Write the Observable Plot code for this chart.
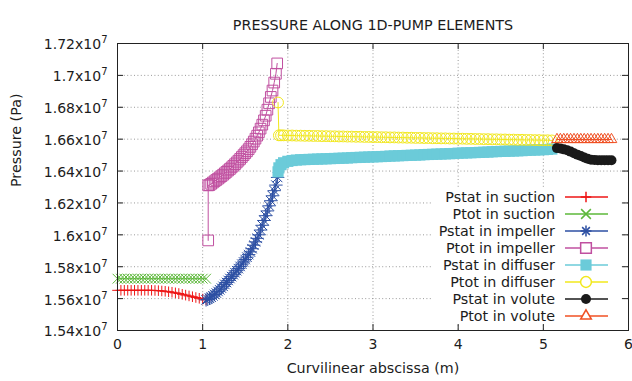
<!DOCTYPE html>
<html><head><meta charset="utf-8">
<script src="https://cdn.jsdelivr.net/npm/d3@7"></script>
<script src="https://cdn.jsdelivr.net/npm/@observablehq/plot@0.6"></script>
<style>
html,body{margin:0;padding:0;background:#fff;}
#chart{width:632px;height:381px;overflow:hidden;}
</style></head><body><div id="chart"></div>
<script>
// ---- data (pressure in units of 10^7 Pa, abscissa in m) ----
const suctionX = [0,0.04,0.08,0.12,0.16,0.2,0.24,0.28,0.32,0.36,0.4,0.44,0.48,0.52,0.56,0.6,0.64,0.68,0.72,0.76,0.8,0.84,0.88,0.92,0.96,1.0,1.04];
const pstatSuction = [1.5652,1.5652,1.5652,1.5652,1.5652,1.5652,1.5652,1.5652,1.5652,1.5652,1.5652,1.5651,1.5650,1.5648,1.5646,1.5643,1.5640,1.5636,1.5632,1.5627,1.5622,1.5617,1.5612,1.5607,1.5602,1.5597,1.5592];
const ptotSuction = [1.5725,1.5725,1.5725,1.5725,1.5725,1.5725,1.5725,1.5725,1.5725,1.5725,1.5725,1.5725,1.5725,1.5725,1.5725,1.5725,1.5725,1.5725,1.5725,1.5725,1.5725,1.5725,1.5725,1.5725,1.5725,1.5725,1.5725];

const impellerX = [1.04,1.06,1.08,1.10,1.12,1.14,1.16,1.18,1.20,1.22,1.24,1.26,1.28,1.30,1.32,1.34,1.36,1.38,1.40,1.42,1.44,1.46,1.48,1.50,1.52,1.54,1.56,1.58,1.60,1.62,1.64,1.66,1.68,1.70,1.72,1.74,1.76,1.78,1.80,1.82,1.84,1.86,1.88];
const pstatImpeller = [1.5592,1.5596,1.5602,1.5609,1.5617,1.5626,1.5635,1.5645,1.5655,1.5666,1.5677,1.5689,1.5701,1.5714,1.5726,1.5738,1.5750,1.5762,1.5775,1.5788,1.5802,1.5816,1.5830,1.5845,1.5860,1.5876,1.5893,1.5913,1.5935,1.5956,1.5978,1.6000,1.6030,1.6060,1.6090,1.6120,1.6150,1.6182,1.6214,1.6245,1.6277,1.6312,1.6360];
const impellerTotX = [1.065,1.065,1.08,1.10,1.12,1.14,1.16,1.18,1.20,1.22,1.24,1.26,1.28,1.30,1.32,1.34,1.36,1.38,1.40,1.42,1.44,1.46,1.48,1.50,1.52,1.54,1.56,1.58,1.60,1.62,1.64,1.66,1.68,1.70,1.72,1.74,1.76,1.78,1.80,1.82,1.84,1.86,1.875];
const ptotImpeller = [1.5965,1.6310,1.6312,1.6320,1.6328,1.6336,1.6344,1.6352,1.6360,1.6368,1.6377,1.6386,1.6395,1.6404,1.6413,1.6423,1.6433,1.6443,1.6454,1.6465,1.6476,1.6488,1.6500,1.6512,1.6524,1.6537,1.6552,1.6568,1.6585,1.6603,1.6622,1.6643,1.6666,1.6691,1.6718,1.6747,1.6785,1.6825,1.6865,1.6905,1.6955,1.7010,1.7075];

const diffuserX = [1.885,1.895,1.92,1.95,2.00,2.05,2.10,2.15,2.20,2.25,2.30,2.35,2.40,2.45,2.50,2.55,2.60,2.65,2.70,2.75,2.80,2.85,2.90,2.95,3.00,3.05,3.10,3.15,3.20,3.25,3.30,3.35,3.40,3.45,3.50,3.55,3.60,3.65,3.70,3.75,3.80,3.85,3.90,3.95,4.00,4.05,4.10,4.15,4.20,4.25,4.30,4.35,4.40,4.45,4.50,4.55,4.60,4.65,4.70,4.75,4.80,4.85,4.90,4.95,5.00,5.05,5.10];
const pstatDiffuser = [1.6395,1.6420,1.6440,1.6452,1.6461,1.6466,1.6469,1.6471,1.6472,1.6473,1.6474,1.6475,1.6476,1.6477,1.6478,1.6479,1.6480,1.6481,1.6482,1.6484,1.6485,1.6486,1.6487,1.6488,1.6489,1.6490,1.6491,1.6492,1.6494,1.6495,1.6496,1.6497,1.6498,1.6499,1.6500,1.6501,1.6503,1.6504,1.6505,1.6506,1.6507,1.6508,1.6509,1.6510,1.6512,1.6513,1.6514,1.6515,1.6516,1.6517,1.6518,1.6519,1.6521,1.6522,1.6523,1.6524,1.6525,1.6526,1.6527,1.6528,1.6530,1.6531,1.6532,1.6533,1.6534,1.6536,1.6538];
const ptotDiffuser = [1.6830,1.6624,1.6624,1.6624,1.6623,1.6623,1.6622,1.6622,1.6621,1.6621,1.6620,1.6620,1.6619,1.6619,1.6618,1.6618,1.6617,1.6617,1.6616,1.6616,1.6615,1.6615,1.6614,1.6614,1.6613,1.6613,1.6612,1.6612,1.6611,1.6611,1.6610,1.6610,1.6609,1.6609,1.6608,1.6608,1.6607,1.6607,1.6606,1.6606,1.6605,1.6605,1.6604,1.6604,1.6603,1.6603,1.6602,1.6602,1.6601,1.6601,1.6600,1.6600,1.6599,1.6599,1.6598,1.6598,1.6597,1.6597,1.6596,1.6596,1.6595,1.6595,1.6594,1.6594,1.6593,1.6593,1.6592];

const voluteX = [5.16,5.20,5.24,5.28,5.32,5.36,5.40,5.44,5.48,5.52,5.56,5.60,5.64,5.68,5.72,5.76,5.80];
const pstatVolute = [1.6544,1.6541,1.6536,1.6530,1.6522,1.6512,1.6503,1.6494,1.6485,1.6477,1.6471,1.6469,1.6468,1.6468,1.6468,1.6468,1.6468];
const ptotVolute = [1.6598,1.6598,1.6598,1.6598,1.6598,1.6598,1.6598,1.6598,1.6598,1.6598,1.6598,1.6598,1.6598,1.6598,1.6598,1.6598,1.6598];

const xTicks = [0,1,2,3,4,5,6];
const yTicks = [1.54,1.56,1.58,1.60,1.62,1.64,1.66,1.68,1.70,1.72];
const seriesNames = ["Pstat in suction","Ptot in suction","Pstat in impeller","Ptot in impeller","Pstat in diffuser","Ptot in diffuser","Pstat in volute","Ptot in volute"];
const titleText = "PRESSURE ALONG 1D-PUMP ELEMENTS";
const xLabel = "Curvilinear abscissa (m)";
const yLabel = "Pressure (Pa)";

// ---- styles ----
const styles = [
  {color:"#ee1616", symbols:["plus"], r:3.5, filled:false},
  {color:"#5cb83a", symbols:["times"], r:4.5, filled:false},
  {color:"#2c4fa3", symbols:["plus","times"], r:4.4, filled:false},
  {color:"#c050a0", symbols:["square2"], r:6.8, filled:false},
  {color:"#6bcbd9", symbols:["square"], r:6.3, filled:true},
  {color:"#f2e81c", symbols:["circle"], r:5.4, filled:false},
  {color:"#1a1a1a", symbols:["circle"], r:5.0, filled:true},
  {color:"#f05023", symbols:["triangle2"], r:5.1, filled:false}
];
const xs = [suctionX, suctionX, impellerX, impellerTotX, diffuserX, diffuserX, voluteX, voluteX];
const ys = [pstatSuction, ptotSuction, pstatImpeller, ptotImpeller, pstatDiffuser, ptotDiffuser, pstatVolute, ptotVolute];
const series = seriesNames.map((name, i) => ({
  name, ...styles[i],
  data: xs[i].map((x, j) => ({x, y: ys[i][j]}))
}));

const FONT = "DejaVu Sans";
const TXT = "#1c1c1c";
const FS = 14.3;
const marks = [
  Plot.ruleX(xTicks, {x: d => d, stroke: "#9a9a9a", strokeDasharray: "1,2.4"}),
  Plot.ruleY(yTicks, {y: d => d, stroke: "#9a9a9a", strokeDasharray: "1,2.4"})
];
for (const s of series) {
  marks.push(Plot.line(s.data, {x: "x", y: "y", stroke: s.color, strokeWidth: 1}));
  for (const sym of s.symbols) {
    marks.push(Plot.dot(s.data, s.filled
      ? {x: "x", y: "y", symbol: sym, r: s.r, fill: s.color, stroke: "none"}
      : {x: "x", y: "y", symbol: sym, r: s.r, fill: "none", stroke: s.color, strokeWidth: 1}));
  }
}
marks.push(
  Plot.frame({stroke: "#222", strokeWidth: 1}),
  Plot.tickX(xTicks, {x: d => d, stroke: "#222", insetTop: 281}),
  Plot.tickX(xTicks, {x: d => d, stroke: "#222", insetBottom: 281}),
  Plot.tickY(yTicks, {y: d => d, stroke: "#222", insetRight: 505}),
  Plot.tickY(yTicks, {y: d => d, stroke: "#222", insetLeft: 505}),
  Plot.text(xTicks, {x: d => d, frameAnchor: "bottom", dy: 18, text: d => String(d), fontSize: 14, fill: TXT}),
  Plot.text(yTicks, {y: d => d, frameAnchor: "left", dx: -10, dy: 1.5, textAnchor: "end", text: d => `${+d.toFixed(2)}x10^7`, fontSize: 14, fill: TXT}),
  Plot.text([xLabel], {frameAnchor: "bottom", dy: 42.5, fontSize: FS, fill: TXT}),
  Plot.text([yLabel], {frameAnchor: "left", dx: -101, rotate: -90, fontSize: FS, fill: TXT}),
  Plot.text([titleText], {frameAnchor: "top", dy: -23.5, fontSize: FS, fill: TXT})
);

const plot = Plot.plot({
  width: 632, height: 381,
  marginLeft: 117, marginRight: 4, marginTop: 43, marginBottom: 51,
  x: {domain: [0, 6], axis: null},
  y: {domain: [1.54, 1.72], axis: null},
  style: {fontFamily: FONT, background: "#fff", color: TXT},
  marks
});

// superscript exponent in y tick labels
d3.select(plot).selectAll("text").each(function() {
  const t = this.textContent;
  if (/\^7$/.test(t)) {
    const s = d3.select(this);
    s.text(null);
    s.append("tspan").text(t.slice(0, -2));
    s.append("tspan").attr("dy", "-6").attr("font-size", "10px").text("7");
  }
});

// legend (opaque key box inside the frame, like gnuplot)
const symMap = {plus: d3.symbolPlus, times: d3.symbolTimes, square2: d3.symbolSquare2, square: d3.symbolSquare, circle: d3.symbolCircle, triangle2: d3.symbolTriangle2};
const lg = d3.create("svg:g").attr("font-family", FONT).attr("font-size", FS);
lg.append("rect").attr("x", 432).attr("y", 188).attr("width", 189).attr("height", 136).attr("fill", "#fff");
series.forEach((s, i) => {
  const cy = 197 + i * 17;
  const rr = Math.min(s.r, s.symbols.length > 1 ? 3.6 : s.r);
  lg.append("text").attr("x", 555).attr("y", cy).attr("dy", "0.37em").attr("text-anchor", "end").attr("fill", TXT).text(s.name);
  lg.append("line").attr("x1", 565).attr("x2", 608).attr("y1", cy).attr("y2", cy).attr("stroke", s.color).attr("stroke-width", 1.5);
  for (const sym of s.symbols) {
    const p = lg.append("path").attr("transform", `translate(586,${cy})`)
      .attr("d", d3.symbol(symMap[sym], rr * rr * Math.PI)());
    if (s.filled) p.attr("fill", s.color);
    else p.attr("fill", sym === "plus" || sym === "times" ? "none" : "#fff").attr("stroke", s.color).attr("stroke-width", 1.5);
  }
});
let fr = plot.querySelector('[aria-label="frame"]');
if (fr) { while (fr.parentNode !== plot) fr = fr.parentNode; plot.insertBefore(lg.node(), fr); }
else plot.appendChild(lg.node());

document.getElementById("chart").appendChild(plot);
</script>
</body></html>
